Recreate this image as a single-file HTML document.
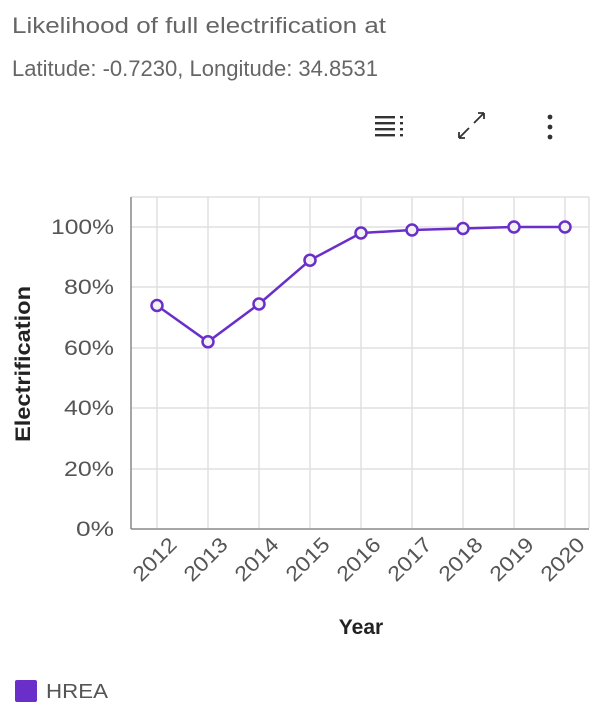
<!DOCTYPE html>
<html><head><style>
body{margin:0;width:609px;height:723px;background:#fff;font-family:"Liberation Sans",sans-serif;overflow:hidden}
</style></head><body>
<svg width="609" height="723" xmlns="http://www.w3.org/2000/svg" font-family="Liberation Sans, sans-serif">
<text x="12" y="33" font-size="22" fill="#666" textLength="374" lengthAdjust="spacingAndGlyphs">Likelihood of full electrification at</text>
<text x="12" y="76" font-size="22" fill="#666" textLength="366" lengthAdjust="spacingAndGlyphs">Latitude: -0.7230, Longitude: 34.8531</text>
<g fill="#333">
<rect x="375" y="116" width="20" height="2.4"/><rect x="375" y="122" width="20" height="2.4"/><rect x="375" y="128" width="20" height="2.4"/><rect x="375" y="134" width="20" height="2.4"/>
<rect x="400" y="116" width="3" height="2.4"/><rect x="400" y="122" width="3" height="2.4"/><rect x="400" y="128" width="3" height="2.4"/><rect x="400" y="134" width="3" height="2.4"/>
<circle cx="550" cy="117" r="2.4"/><circle cx="550" cy="127" r="2.4"/><circle cx="550" cy="137" r="2.4"/>
</g>
<g stroke="#333" stroke-width="1.8" fill="none">
<path d="M459 138 L469 128 M459 138 h6 M459 138 v-6"/>
<path d="M474 123 L484 113 M484 113 h-6 M484 113 v6"/>
</g>
<g stroke="#e0e0e0" stroke-width="1.5">
<line x1="131" y1="197" x2="589" y2="197"/>
<line x1="131" y1="227" x2="589" y2="227"/>
<line x1="131" y1="287" x2="589" y2="287"/>
<line x1="131" y1="348" x2="589" y2="348"/>
<line x1="131" y1="408" x2="589" y2="408"/>
<line x1="131" y1="469" x2="589" y2="469"/>
<line x1="157" y1="197" x2="157" y2="528"/><line x1="208" y1="197" x2="208" y2="528"/><line x1="259" y1="197" x2="259" y2="528"/><line x1="310" y1="197" x2="310" y2="528"/><line x1="361" y1="197" x2="361" y2="528"/><line x1="412" y1="197" x2="412" y2="528"/><line x1="463" y1="197" x2="463" y2="528"/><line x1="514" y1="197" x2="514" y2="528"/><line x1="565" y1="197" x2="565" y2="528"/><line x1="589" y1="197" x2="589" y2="528"/>
</g>
<line x1="131" y1="197" x2="131" y2="529" stroke="#888" stroke-width="1.5"/>
<line x1="131" y1="529" x2="589" y2="529" stroke="#888" stroke-width="1.5"/>
<g font-size="21" fill="#555" text-anchor="end">
<text x="114" y="234" textLength="63" lengthAdjust="spacingAndGlyphs">100%</text><text x="114" y="294" textLength="50" lengthAdjust="spacingAndGlyphs">80%</text><text x="114" y="355" textLength="50" lengthAdjust="spacingAndGlyphs">60%</text><text x="114" y="415" textLength="50" lengthAdjust="spacingAndGlyphs">40%</text><text x="114" y="476" textLength="50" lengthAdjust="spacingAndGlyphs">20%</text><text x="114" y="536" textLength="38" lengthAdjust="spacingAndGlyphs">0%</text>
</g>
<g font-size="21" fill="#555" text-anchor="end">
<text transform="translate(178,546) rotate(-45)" textLength="52" lengthAdjust="spacingAndGlyphs">2012</text>
<text transform="translate(229,546) rotate(-45)" textLength="52" lengthAdjust="spacingAndGlyphs">2013</text>
<text transform="translate(280,546) rotate(-45)" textLength="52" lengthAdjust="spacingAndGlyphs">2014</text>
<text transform="translate(331,546) rotate(-45)" textLength="52" lengthAdjust="spacingAndGlyphs">2015</text>
<text transform="translate(382,546) rotate(-45)" textLength="52" lengthAdjust="spacingAndGlyphs">2016</text>
<text transform="translate(433,546) rotate(-45)" textLength="52" lengthAdjust="spacingAndGlyphs">2017</text>
<text transform="translate(484,546) rotate(-45)" textLength="52" lengthAdjust="spacingAndGlyphs">2018</text>
<text transform="translate(535,546) rotate(-45)" textLength="52" lengthAdjust="spacingAndGlyphs">2019</text>
<text transform="translate(586,546) rotate(-45)" textLength="52" lengthAdjust="spacingAndGlyphs">2020</text>
</g>
<text x="361" y="634" font-size="21" font-weight="bold" fill="#222" text-anchor="middle">Year</text>
<text transform="translate(30,364) rotate(-90)" font-size="21" font-weight="bold" fill="#222" text-anchor="middle" textLength="156" lengthAdjust="spacingAndGlyphs">Electrification</text>
<polyline fill="none" stroke="#6a2fc9" stroke-width="2.5" points="157,305.5 208,341.8 259,304 310,260.2 361,233 412,230 463,228.5 514,227 565,227"/>
<g fill="#f2f2f2" stroke="#6a2fc9" stroke-width="2.5">
<circle cx="157" cy="305.5" r="5.5"/><circle cx="208" cy="341.8" r="5.5"/><circle cx="259" cy="304" r="5.5"/><circle cx="310" cy="260.2" r="5.5"/><circle cx="361" cy="233" r="5.5"/><circle cx="412" cy="230" r="5.5"/><circle cx="463" cy="228.5" r="5.5"/><circle cx="514" cy="227" r="5.5"/><circle cx="565" cy="227" r="5.5"/>
</g>
<rect x="15" y="680" width="22" height="22" rx="2" fill="#6a2fc9"/>
<text x="46" y="698" font-size="20" fill="#555" textLength="62" lengthAdjust="spacingAndGlyphs">HREA</text>
</svg>
</body></html>
